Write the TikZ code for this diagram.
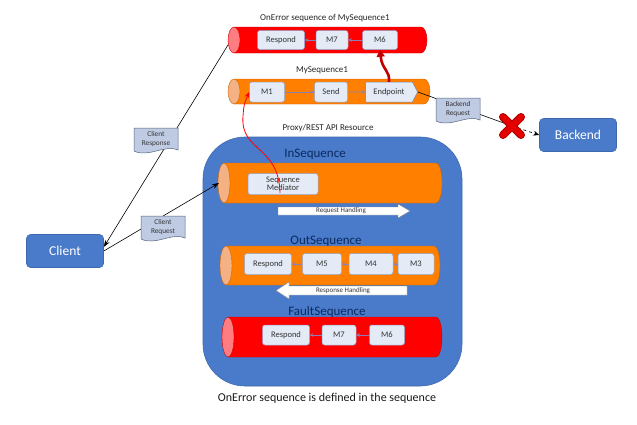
\documentclass[tikz,border=0pt]{standalone}
\usepackage{fontspec}
\setmainfont{Carlito}
\usetikzlibrary{arrows.meta,shapes.symbols}
\definecolor{myblue}{HTML}{4A7BCB}
\definecolor{navy}{HTML}{0B2A5E}
\definecolor{cylorange}{HTML}{FF7F00}
\definecolor{caporange}{HTML}{F4B183}
\definecolor{cylred}{HTML}{FF0000}
\definecolor{capred}{HTML}{FF7C80}
\definecolor{medfill}{HTML}{E4EBF6}
\definecolor{medborder}{HTML}{8FA5CF}
\definecolor{medarrow}{HTML}{8A7FB8}
\definecolor{docfill}{HTML}{BFCBE3}
\definecolor{docborder}{HTML}{55657F}
\definecolor{darkred}{HTML}{C00000}
\newcommand\mycyl[7]{%
  \pgfmathsetmacro\cyry{(#5-#3)/2}%
  \pgfmathsetmacro\cymid{(#5+#3)/2}%
  \path[draw=#6!80!black, line width=0.4pt, fill=#6] (#2+6,#3) -- (#4-6,#3)
     arc[start angle=90, end angle=-90, x radius=6pt, y radius=\cyry*1pt] -- (#2+6,#5) -- cycle;
  \path[draw=#6!80!black, line width=0.4pt, fill=#7] (#2+6,\cymid) ellipse[x radius=6pt, y radius=\cyry*1pt];
  \coordinate (#1) at (#2+6,\cymid);
}
\newcommand\mydoc[4]{%
  \path[draw=docborder, fill=docfill, line width=0.5pt] (#2-22,#3-12) -- (#2+22,#3-12) -- (#2+22,#3+10)
     .. controls (#2+10,#3+4) and (#2-8,#3+18) .. (#2-22,#3+11) -- cycle;
  \node[doctext] (#1) at (#2,#3-1) {#4};
}
\tikzset{
  med/.style={draw=medborder, fill=medfill, rounded corners=2.5pt, minimum height=19pt, inner sep=1pt,
     font=\fontsize{8.5}{9}\selectfont, text=black!80, line width=0.5pt},
  marr/.style={draw=medarrow, line width=0.7pt, -{Stealth[length=3.5pt,width=3.5pt]}},
  lbl/.style={font=\fontsize{9}{11}\selectfont, text=black!85, inner sep=0pt},
  seqlbl/.style={font=\fontsize{13}{15}\selectfont, text=navy, inner sep=0pt},
  doctext/.style={font=\fontsize{7.3}{8.3}\selectfont, align=center, text=black!80, inner sep=0pt},
  bigbox/.style={fill=myblue, draw=myblue!85!black, line width=0.6pt, rounded corners=4pt, text=white,
     font=\fontsize{13.5}{15}\selectfont, minimum width=77pt, minimum height=33pt},
  conn/.style={draw=black, line width=0.6pt},
  carr/.style={conn, -{Stealth[length=7pt,width=5pt]}},
  harr/.style={draw=black!45, fill=white, line width=0.4pt},
  htext/.style={font=\fontsize{7}{7}\selectfont, text=black!80, inner sep=0pt}
}
\begin{document}
\begin{tikzpicture}[x=1pt,y=-1pt]
\useasboundingbox (0,0) rectangle (637,424);
\fill[white] (0,0) rectangle (637,424);

% ---------- big resource box ----------
\path[fill=myblue, draw=myblue!85!black, line width=0.6pt, rounded corners=42pt] (203,137) rectangle (462,386);
\coordinate (res) at (332,260);
\node[lbl] (reslbl) at (328,128) {Proxy/REST API Resource};

% ---------- OnError sequence (top) ----------
\node[lbl] (onerrlbl) at (325,18) {OnError sequence of MySequence1};
\mycyl{onerr}{228}{27}{427}{53}{cylred}{capred}
\coordinate (onerrL) at (228,45);
\node[med, minimum width=47pt] (oresp) at (281,40) {Respond};
\node[med, minimum width=32pt] (om7) at (332,40) {M7};
\node[med, minimum width=35pt] (om6) at (380,40) {M6};
\draw[marr] (om7) -- (oresp);
\draw[marr] (om6) -- (om7);

% ---------- MySequence1 ----------
\node[lbl] (myseqlbl) at (322,70) {MySequence1};
\mycyl{myseq}{228}{79}{430}{104}{cylorange}{caporange}
\node[med, minimum width=35pt, minimum height=20pt] (m1) at (267,92) {M1};
\node[med, minimum width=33pt, minimum height=20pt] (send) at (331,92) {Send};
\node[signal, signal to=east, signal pointer angle=125, draw=medborder!80!black, fill=medfill, line width=0.5pt,
      minimum width=52pt, minimum height=20pt, inner sep=1pt, font=\fontsize{8.5}{9}\selectfont, text=black!80] (endp) at (389,92) {Endpoint};
\draw[marr] (m1) -- (send);
\draw[marr] (send) -- (endp);
\draw[darkred, line width=2.6pt, -{Triangle[length=7pt,width=8pt]}] (endp.north) .. controls (390,70) and (382,70) .. (om6.south);

% ---------- InSequence ----------
\node[seqlbl] (inlbl) at (315,154) {InSequence};
\mycyl{insq}{218}{163}{442}{203}{cylorange}{caporange}
\coordinate (insqL) at (219,183);
\node[med, minimum width=70pt, minimum height=21pt, align=center, font=\fontsize{8.5}{8.5}\selectfont] (seqmed) at (283,184) {Sequence\\Mediator};
\draw[red, line width=0.8pt, -{Stealth[length=6pt,width=5pt]}] (280,193) .. controls (279,145) and (240,152) .. (243,116) .. controls (244,104) .. (m1.west);
\path[harr] (278,207) -- (398,207) -- (398,204) -- (410,211) -- (398,218) -- (398,215) -- (278,215) -- cycle;
\node[htext] (reqh) at (341,211) {Request Handling};

% ---------- OutSequence ----------
\node[seqlbl] (outlbl) at (326,241) {OutSequence};
\mycyl{outsq}{220}{246}{440}{285}{cylorange}{caporange}
\node[med, minimum width=47pt, minimum height=21pt] (oresp2) at (268,264) {Respond};
\node[med, minimum width=39pt, minimum height=21pt] (m5) at (322,264) {M5};
\node[med, minimum width=44pt, minimum height=21pt] (m4) at (371,264) {M4};
\node[med, minimum width=36pt, minimum height=21pt] (m3) at (416,264) {M3};
\draw[marr] (m5) -- (oresp2);
\draw[marr] (m4) -- (m5);
\draw[marr] (m3) -- (m4);
\path[harr] (407,286) -- (289,286) -- (289,282) -- (276,290.5) -- (289,299) -- (289,295) -- (407,295) -- cycle;
\node[htext] (resph) at (343,291) {Response Handling};

% ---------- FaultSequence ----------
\node[seqlbl] (faultlbl) at (327,312) {FaultSequence};
\mycyl{fltsq}{222}{317}{442}{357}{cylred}{capred}
\node[med, minimum width=47pt, minimum height=20pt] (fresp) at (286,335) {Respond};
\node[med, minimum width=34pt, minimum height=20pt] (fm7) at (339,335) {M7};
\node[med, minimum width=35pt, minimum height=20pt] (fm6) at (387,335) {M6};
\draw[marr] (fm7) -- (fresp);
\draw[marr] (fm6) -- (fm7);

\node[font=\fontsize{12}{14}\selectfont, text=black!90, inner sep=0pt] (caption) at (327,398) {OnError sequence is defined in the sequence};

% ---------- Client / Backend ----------
\node[bigbox] (client) at (65,251) {Client};
\node[bigbox] (backend) at (578,135) {Backend};

% ---------- connectors ----------
\draw[carr] (onerrL) -- ([yshift=4pt]client.east);
\draw[carr] (client.east) -- (insqL);
\coordinate (xm) at (512,126);
\draw[conn] (endp.east) -- (xm);
\draw[conn, dashed, -{Stealth[length=6pt,width=5pt]}] (xm) -- (backend.west);

% ---------- documents ----------
\mydoc{cresp}{156}{140}{Client\\Response}
\mydoc{creq}{163}{228}{Client\\Request}
\mydoc{breq}{458}{110}{Backend\\Request}

% ---------- red cross ----------
\draw[darkred!90!black, line width=8pt, line cap=round] (503,117) -- (521,135) (521,117) -- (503,135);
\draw[red!90!black, line width=6pt, line cap=round] (503,117) -- (521,135) (521,117) -- (503,135);
\node[inner sep=0pt, minimum size=26pt] (xmark) at (xm) {};
\end{tikzpicture}
\end{document}
